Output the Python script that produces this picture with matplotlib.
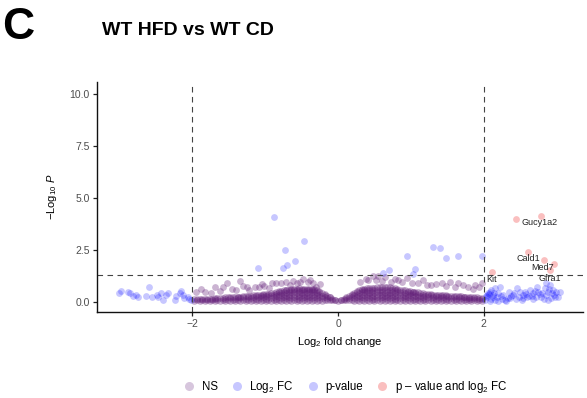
import matplotlib
matplotlib.use('Agg')
import matplotlib.pyplot as plt
from matplotlib.lines import Line2D

plt.rcParams['font.family'] = ['Liberation Sans', 'DejaVu Sans']
plt.rcParams['mathtext.fontset'] = 'custom'
plt.rcParams['mathtext.rm'] = 'Liberation Sans'
plt.rcParams['mathtext.it'] = 'Liberation Sans:italic'

# NS genes, dense core, read column by column (x, then the y values in that column)
core_x = [-1.97, -1.90, -1.83, -1.76, -1.69, -1.62, -1.55, -1.48, -1.41, -1.34,
          -1.27, -1.20, -1.13, -1.06, -0.99, -0.92, -0.85, -0.78, -0.71, -0.64,
          -0.57, -0.50, -0.43, -0.36, -0.29, -0.22, -0.15, -0.08, 0.00, 0.08,
          0.15, 0.22, 0.29, 0.36, 0.43, 0.50, 0.57, 0.64, 0.71, 0.78,
          0.85, 0.92, 0.99, 1.06, 1.13, 1.20, 1.27, 1.34, 1.41, 1.48,
          1.55, 1.62, 1.69, 1.76, 1.83, 1.90, 1.97]
core_y = [[0.02, 0.13], [0.04, 0.14], [0.03, 0.15], [0.05, 0.15], [0.02, 0.14, 0.17],
          [0.04, 0.16], [0.03, 0.15, 0.20], [0.05, 0.17, 0.21], [0.02, 0.14, 0.22],
          [0.04, 0.16, 0.24], [0.03, 0.15, 0.27], [0.05, 0.18, 0.29],
          [0.02, 0.14, 0.26, 0.31], [0.04, 0.17, 0.29, 0.34], [0.03, 0.15, 0.27, 0.37],
          [0.05, 0.18, 0.30, 0.41], [0.02, 0.14, 0.27, 0.39, 0.46],
          [0.04, 0.17, 0.30, 0.42, 0.52], [0.03, 0.16, 0.29, 0.42, 0.55, 0.58],
          [0.05, 0.18, 0.31, 0.44, 0.57, 0.61], [0.02, 0.15, 0.28, 0.41, 0.54, 0.63],
          [0.04, 0.17, 0.30, 0.43, 0.56, 0.63], [0.03, 0.16, 0.29, 0.42, 0.55, 0.62],
          [0.05, 0.18, 0.31, 0.44, 0.57, 0.61], [0.04, 0.17, 0.30, 0.43, 0.56],
          [0.05, 0.16, 0.29, 0.42], [0.06, 0.18, 0.28], [0.08, 0.14], [0.05],
          [0.07, 0.12], [0.06, 0.18, 0.26], [0.05, 0.17, 0.30, 0.40],
          [0.04, 0.16, 0.29, 0.42, 0.55], [0.03, 0.18, 0.31, 0.44, 0.57, 0.63],
          [0.05, 0.17, 0.30, 0.43, 0.56, 0.66], [0.02, 0.15, 0.28, 0.41, 0.54, 0.67],
          [0.04, 0.18, 0.31, 0.44, 0.57, 0.69], [0.03, 0.16, 0.29, 0.42, 0.55, 0.70],
          [0.05, 0.17, 0.30, 0.43, 0.56, 0.70], [0.02, 0.15, 0.28, 0.41, 0.54, 0.64],
          [0.04, 0.18, 0.31, 0.44, 0.57], [0.03, 0.16, 0.29, 0.42, 0.54],
          [0.05, 0.17, 0.30, 0.43, 0.50], [0.02, 0.14, 0.27, 0.40, 0.46],
          [0.04, 0.16, 0.29, 0.42], [0.03, 0.15, 0.28, 0.39], [0.05, 0.18, 0.30, 0.36],
          [0.02, 0.14, 0.27, 0.34], [0.04, 0.16, 0.28, 0.32], [0.03, 0.15, 0.27, 0.30],
          [0.05, 0.17, 0.28], [0.02, 0.14, 0.26], [0.04, 0.16, 0.25], [0.03, 0.13, 0.23],
          [0.05, 0.15, 0.22], [0.02, 0.12, 0.20], [0.04, 0.14, 0.19]]

# second set of core columns, between the first ones
core2_x = [-1.935, -1.865, -1.795, -1.725, -1.655, -1.585, -1.515, -1.445, -1.375,
           -1.305, -1.235, -1.165, -1.095, -1.025, -0.955, -0.885, -0.815, -0.745,
           -0.675, -0.605, -0.535, -0.465, -0.395, -0.325, -0.255, -0.185, -0.115,
           -0.045, 0.045, 0.115, 0.185, 0.255, 0.325, 0.395, 0.465, 0.535, 0.605,
           0.675, 0.745, 0.815, 0.885, 0.955, 1.025, 1.095, 1.165, 1.235, 1.305,
           1.375, 1.445, 1.515, 1.585, 1.655, 1.725, 1.795, 1.865, 1.935]
core2_y = [[0.08, 0.11], [0.07, 0.12], [0.09, 0.14], [0.08, 0.15], [0.09, 0.16],
           [0.08, 0.19], [0.10, 0.20], [0.09, 0.21], [0.08, 0.20, 0.23],
           [0.10, 0.22, 0.25], [0.09, 0.21, 0.28], [0.08, 0.20, 0.30],
           [0.10, 0.22, 0.33], [0.09, 0.21, 0.33, 0.36], [0.08, 0.20, 0.32, 0.39],
           [0.10, 0.22, 0.34, 0.43], [0.09, 0.21, 0.33, 0.45, 0.49],
           [0.08, 0.20, 0.32, 0.44, 0.55], [0.10, 0.22, 0.34, 0.46, 0.58],
           [0.09, 0.21, 0.33, 0.45, 0.57, 0.62], [0.08, 0.20, 0.32, 0.44, 0.56, 0.64],
           [0.10, 0.22, 0.34, 0.46, 0.58, 0.63], [0.09, 0.21, 0.33, 0.45, 0.57, 0.62],
           [0.08, 0.20, 0.32, 0.44, 0.56, 0.60], [0.10, 0.22, 0.34, 0.46, 0.52],
           [0.09, 0.21, 0.33, 0.37], [0.08, 0.20, 0.24], [0.07, 0.10], [0.06, 0.09],
           [0.08, 0.19, 0.22], [0.09, 0.21, 0.33, 0.36], [0.10, 0.22, 0.34, 0.46, 0.50],
           [0.08, 0.20, 0.32, 0.44, 0.56, 0.60], [0.09, 0.21, 0.33, 0.45, 0.57, 0.64],
           [0.10, 0.22, 0.34, 0.46, 0.58, 0.67], [0.08, 0.20, 0.32, 0.44, 0.56, 0.68],
           [0.09, 0.21, 0.33, 0.45, 0.57, 0.70], [0.10, 0.22, 0.34, 0.46, 0.58, 0.71],
           [0.08, 0.20, 0.32, 0.44, 0.56, 0.67], [0.09, 0.21, 0.33, 0.45, 0.57, 0.61],
           [0.10, 0.22, 0.34, 0.46, 0.55], [0.08, 0.20, 0.32, 0.44, 0.52],
           [0.09, 0.21, 0.33, 0.45, 0.48], [0.10, 0.22, 0.34, 0.44],
           [0.08, 0.20, 0.32, 0.41], [0.09, 0.21, 0.33, 0.37], [0.10, 0.22, 0.34],
           [0.08, 0.20, 0.31], [0.09, 0.21, 0.30], [0.10, 0.22, 0.29], [0.08, 0.20, 0.27],
           [0.09, 0.21, 0.26], [0.10, 0.20, 0.24], [0.08, 0.19, 0.23], [0.09, 0.18, 0.21],
           [0.10, 0.19]]

# NS genes, the sparse ones above the core
ns_x = [-1.88, -1.82, -1.69, -1.58, -1.52, -1.45, -1.35, -1.30, -1.22, -1.14, -1.08,
        -1.01, -0.91, -0.85, -0.78, -0.71, -0.66, -0.57, -0.48, -0.41, -0.34, -0.30,
        0.41, 0.48, 0.55, 0.64, 0.73, 0.82, 0.94, 1.01, 1.17, 1.28, 1.42, 1.53, 1.65,
        1.79, 1.88, 1.97,
        -1.95, -1.75, -1.62, -1.40, -1.25, -1.05, -0.95, -0.62, -0.52, -0.38, -0.25,
        0.30, 0.38, 0.52, 0.60, 0.78, 0.88, 1.10, 1.22, 1.35, 1.48, 1.60, 1.72, 1.85, 1.93]
ns_y = [0.60, 0.48, 0.69, 0.72, 0.91, 0.60, 1.00, 0.75, 0.56, 0.72, 0.72,
        0.75, 0.91, 0.91, 0.88, 0.96, 0.80, 0.91, 1.08, 0.96, 0.91, 0.72,
        1.04, 1.22, 1.25, 1.20, 0.96, 1.04, 1.12, 0.88, 1.04, 0.80, 0.91, 0.96, 0.91,
        0.72, 0.80, 0.88,
        0.45, 0.40, 0.52, 0.55, 0.70, 0.85, 0.65, 1.00, 0.95, 1.05, 0.85,
        0.95, 1.10, 1.05, 1.00, 1.10, 0.95, 0.90, 0.78, 0.85, 0.75, 0.68, 0.80, 0.62, 0.70]

# Log2 FC only
fc_x = [-3.00, -2.98, -2.88, -2.86, -2.82, -2.77, -2.75, -2.63, -2.59, -2.56, -2.49,
        -2.47, -2.43, -2.40, -2.36, -2.34, -2.24, -2.22, -2.17, -2.15, -2.13, -2.11,
        -2.06, -2.04, -2.02,
        2.08, 2.13, 2.20, 2.27, 2.34, 2.36, 2.40, 2.50, 2.54, 2.59, 2.63, 2.68, 2.75,
        2.79, 2.84, 2.88, 2.91, 2.93, 2.95, 2.98, 2.22, 2.45, 2.15, 2.73, 2.86, 2.54,
        2.29, 2.68, 2.88, 2.04, 2.02, 2.05, 2.08, 2.10, 2.12, 2.16, 2.18, 2.25, 2.31,
        2.38, 2.44, 2.48, 2.56, 2.62, 2.72, 2.77, 2.82, 2.92, 2.96, 3.05, 3.02, 2.06, 2.10,
        2.03, 2.07, 2.14, 2.19, 2.23, 2.33, 2.42, 2.52, 2.58, 2.66, 2.70, 2.80, 2.85,
        2.90, 2.99]
fc_y = [0.40, 0.53, 0.48, 0.40, 0.27, 0.32, 0.24, 0.27, 0.72, 0.24, 0.32,
        0.24, 0.40, 0.08, 0.32, 0.43, 0.08, 0.27, 0.40, 0.53, 0.32, 0.16,
        0.24, 0.12, 0.06,
        0.48, 0.24, 0.40, 0.32, 0.48, 0.16, 0.32, 0.48, 0.32, 0.21, 0.56, 0.40, 0.48,
        0.24, 0.64, 0.48, 0.80, 0.40, 0.56, 0.24, 0.72, 0.64, 0.64, 0.72, 0.88, 0.16,
        0.08, 0.12, 0.08, 0.32, 0.10, 0.20, 0.05, 0.15, 0.30, 0.10, 0.22, 0.15, 0.05,
        0.25, 0.12, 0.20, 0.45, 0.28, 0.20, 0.35, 0.15, 0.18, 0.30, 0.45, 0.20, 0.40, 0.55,
        0.25, 0.35, 0.42, 0.05, 0.28, 0.18, 0.40, 0.10, 0.35, 0.25, 0.50, 0.42, 0.30,
        0.62, 0.45]

# p-value only
pv_x = [-0.88, -0.47, -0.73, -1.10, -0.76, -0.70, -0.59, 0.94, 1.30, 1.40, 1.48,
        1.65, 1.97, 0.70, 0.62, 1.05, 1.03]
pv_y = [4.07, 2.92, 2.49, 1.61, 1.61, 1.76, 1.93, 2.21, 2.61, 2.57, 2.12,
        2.21, 2.20, 1.52, 1.38, 1.56, 1.35]

# p-value and log2 FC
both_x = [2.44, 2.79, 2.61, 2.82, 2.97, 2.91, 2.11]
both_y = [3.96, 4.12, 2.40, 2.00, 1.81, 1.52, 1.41]

gene_names = ['Gucy1a2', 'Cald1', 'Med7', 'Gfra1', 'Kit']
gene_x = [2.76, 2.61, 2.81, 2.91, 2.11]
gene_y = [3.80, 2.09, 1.65, 1.13, 1.06]

ns_color = '#621E78'
blue = '#0000FF'
red = '#EE0000'

fig = plt.figure(figsize=(5.87, 3.98), dpi=100)
ax = fig.add_axes([0.165, 0.216, 0.828, 0.579])

# flatten the core columns
all_ns_x = list(ns_x)
all_ns_y = list(ns_y)
for cols_x, cols_y in [(core_x, core_y), (core2_x, core2_y)]:
    for cx, ys in zip(cols_x, cols_y):
        for cy in ys:
            all_ns_x.append(cx)
            all_ns_y.append(cy)

ms = 24
ax.scatter(all_ns_x, all_ns_y, s=ms, color=ns_color, alpha=0.33, linewidths=0)
ax.scatter(fc_x, fc_y, s=ms, color=blue, alpha=0.22, linewidths=0)
ax.scatter(pv_x, pv_y, s=ms, color=blue, alpha=0.22, linewidths=0)
ax.scatter(both_x, both_y, s=ms, color=red, alpha=0.25, linewidths=0)

for name, gx, gy in zip(gene_names, gene_x, gene_y):
    ax.text(gx, gy, name, fontsize=6.5, ha='center', va='center', color='#222222')

ax.axvline(-2, color='#444444', lw=0.8, ls=(0, (5, 4)))
ax.axvline(2, color='#444444', lw=0.8, ls=(0, (5, 4)))
ax.axhline(1.30103, color='#444444', lw=0.8, ls=(0, (5, 4)))

ax.set_xlim(-3.31, 3.36)
ax.set_ylim(-0.5, 10.58)
ax.set_xticks([-2, 0, 2])
ax.set_yticks([0, 2.5, 5, 7.5, 10])
ax.set_yticklabels(['0.0', '2.5', '5.0', '7.5', '10.0'])
ax.spines['top'].set_visible(False)
ax.spines['right'].set_visible(False)
for s in ['left', 'bottom']:
    ax.spines[s].set_linewidth(1.0)
    ax.spines[s].set_color('#111111')
ax.tick_params(length=3, width=0.9, color='#222222', labelsize=7.5,
               labelcolor='#4D4D4D', pad=2)

ax.set_xlabel(r'Log$_2$ fold change', fontsize=8, labelpad=4)
ax.set_ylabel(r'$-$Log$_{10}$ $\mathit{P}$', fontsize=8, labelpad=8)

fig.text(0.003, 0.93, 'C', fontsize=32, fontweight='bold', va='center', ha='left')
fig.text(0.173, 0.924, 'WT HFD vs WT CD', fontsize=14, fontweight='bold',
         va='center', ha='left')

handles = [
    Line2D([], [], ls='', marker='o', ms=6.5, mfc=ns_color, mec='none', alpha=0.25),
    Line2D([], [], ls='', marker='o', ms=6.5, mfc=blue, mec='none', alpha=0.22),
    Line2D([], [], ls='', marker='o', ms=6.5, mfc=blue, mec='none', alpha=0.22),
    Line2D([], [], ls='', marker='o', ms=6.5, mfc=red, mec='none', alpha=0.25),
]
labels = ['NS', r'Log$_2$ FC', 'p-value', r'p – value and log$_2$ FC']
fig.legend(handles, labels, loc='center', bbox_to_anchor=(0.588, 0.028), ncol=4,
           frameon=False, fontsize=8.3, handletextpad=0.6, columnspacing=1.15,
           handlelength=1.0)

fig.savefig('out.png', dpi=100)
